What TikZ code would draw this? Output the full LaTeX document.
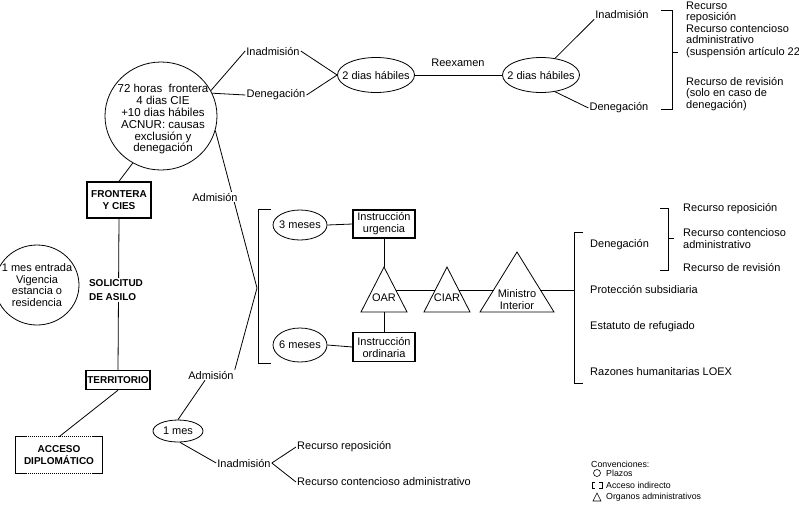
\documentclass[tikz,border=0pt]{standalone}
\usepackage{fontspec}
\setmainfont{Liberation Sans}
\usetikzlibrary{shapes.geometric}
\pgfdeclarelayer{bg}
\pgfsetlayers{bg,main}
\newcommand\fsz[2]{\fontsize{#1}{#2}\selectfont}
\begin{document}
\begin{tikzpicture}[x=1pt,y=-1pt,
  txt/.style={font=\fsz{11}{11.8}, inner sep=1pt, align=left},
  wtxt/.style={txt, fill=white},
  plazo/.style={ellipse, draw, line width=0.8pt, inner sep=0pt},
  caja/.style={draw, line width=1.4pt, inner sep=1pt, align=center, font=\bfseries\fsz{10}{12.5}},
  instr/.style={draw, line width=1.1pt, inner sep=1pt, align=center, font=\fsz{11}{12}},
  con/.style={line width=0.8pt},
  brk/.style={line width=1pt},
  organo/.style={line width=0.8pt, line join=miter},
  leg/.style={anchor=west, inner sep=0pt, font=\fsz{8.8}{9}}]
\useasboundingbox (0,0) rectangle (799,515);

% ---- upper branch
\node[plazo, minimum width=112pt, minimum height=108pt] (c72) at (161,116) {};
\node[font=\fsz{11.5}{11.8}, align=center, inner sep=0pt] (c72t) at (163,119.5)
  {72 horas\ \ frontera\\4 dias CIE\\+10 dias hábiles\\ACNUR: causas\\exclusión y\\denegación};
\node[txt] (inadT) at (273,51) {Inadmisión};
\node[txt] (denT) at (276,95) {Denegación};
\node[plazo, minimum width=77pt, minimum height=35pt, label={[txt]center:2 dias hábiles}] (e2a) at (376,75) {};
\node[txt] (reex) at (458,63) {Reexamen};
\node[plazo, minimum width=77pt, minimum height=35pt, label={[txt]center:2 dias hábiles}] (e2b) at (541,75) {};
\node[txt] (inadTR) at (622,14) {Inadmisión};
\node[txt] (denTR) at (619,108) {Denegación};
\node[txt, anchor=west, inner sep=0pt, font=\fsz{11}{11}] (rtA) at (686,12) {Recurso\\reposición};
\node[txt, anchor=west, inner sep=0pt] (rtB) at (686,41) {Recurso contencioso\\administrativo\\(suspensión artículo 22};
\node[txt, anchor=west, inner sep=0pt] (rtC) at (686,94) {Recurso de revisión\\(solo en caso de\\denegación)};
\draw[brk] (661,10) -- (672,10) -- (672,109) -- (661,109);
\draw[brk] (672,52) -- (678,52);

% ---- left column
\node[caja, minimum width=64pt, minimum height=36pt] (fc) at (119,200) {FRONTERA\\Y CIES};
\node[caja, draw=none, fill=white, align=left, font=\bfseries\fsz{10}{14}] (sol) at (116,290) {SOLICITUD\\DE ASILO};
\node[caja, minimum width=64pt, minimum height=19pt] (terr) at (118,380) {TERRITORIO};
\node[caja, draw=none, minimum width=85pt, minimum height=35pt, font=\bfseries\fsz{10}{11.5}] (acc) at (59,455) {ACCESO\\DIPLOMÁTICO};
\draw[line width=1.2pt] ([xshift=10pt]acc.north west) -- (acc.north west) -- (acc.south west) -- ([xshift=10pt]acc.south west);
\draw[line width=1.2pt] ([xshift=-10pt]acc.north east) -- (acc.north east) -- (acc.south east) -- ([xshift=-10pt]acc.south east);
\draw[line width=1pt, densely dotted] ([xshift=10pt]acc.north west) -- ([xshift=-10pt]acc.north east);
\draw[line width=1pt, densely dotted] ([xshift=10pt]acc.south west) -- ([xshift=-10pt]acc.south east);
\node[plazo, minimum width=84pt, minimum height=80pt,
  label={[txt, align=center]center:{1 mes entrada\\Vigencia\\estancia o\\residencia}}] (c1m) at (37,285) {};

% ---- admission
\node[wtxt] (admU) at (215,197) {Admisión};
\node[wtxt] (admL) at (211,375) {Admisión};
\coordinate (chev) at (257,288);
\draw[brk] (271,209) -- (258,209) -- (258,363) -- (271,363);
\node[plazo, minimum width=50pt, minimum height=22pt, label={[txt]center:1 mes}] (mes1) at (178,431) {};
\node[txt] (inadL) at (244,463) {Inadmisión};
\node[txt, anchor=west] (rrL) at (296,447) {Recurso reposición};
\node[txt, anchor=west] (rcL) at (296,482) {Recurso contencioso administrativo};

\node[plazo, minimum width=54pt, minimum height=30pt, label={[txt]center:3 meses}] (m3) at (300,225) {};
\node[plazo, minimum width=54pt, minimum height=34pt, label={[txt]center:6 meses}] (m6) at (300,345) {};
\node[instr, minimum width=62pt, minimum height=28pt] (iu) at (384,224) {Instrucción\\urgencia};
\node[instr, minimum width=62pt, minimum height=29pt] (io) at (384,347) {Instrucción\\ordinaria};

% ---- organs (triangles)
\draw[organo] (384,267) coordinate (oarA) -- (407,312) -- (361,312) -- cycle;
\coordinate (oarB) at (384,312);
\node[txt] (oar) at (384,298) {OAR};
\draw[organo] (447,267) -- (470,312) -- (424,312) -- cycle;
\node[txt] (ciar) at (447,298) {CIAR};
\draw[organo] (517,252) -- (554,312) -- (480,312) -- cycle;
\node[txt, align=center, font=\fsz{11}{12.5}] (mint) at (517,299.5) {Ministro\\Interior};
\coordinate (oarE) at (395.8,290);
\coordinate (ciarW) at (435.2,290);
\coordinate (ciarE) at (458.8,290);
\coordinate (minW) at (493.6,290);
\coordinate (minE) at (540.4,290);
\coordinate (bkR) at (574,290);

% ---- outcomes
\draw[brk] (583,232) -- (574,232) -- (574,383) -- (583,383);
\node[txt, anchor=west, inner sep=0pt] (denM) at (590,245) {Denegación};
\node[txt, anchor=west, inner sep=0pt] (prot) at (590,289) {Protección subsidiaria};
\node[txt, anchor=west, inner sep=0pt] (estat) at (590,327) {Estatuto de refugiado};
\node[txt, anchor=west, inner sep=0pt] (razon) at (590,372) {Razones humanitarias LOEX};
\draw[brk] (660,208) -- (668,208) -- (668,270) -- (660,270);
\draw[brk] (668,238) -- (674,238);
\node[txt, anchor=west, inner sep=0pt] (rmA) at (683,209) {Recurso reposición};
\node[txt, anchor=west, inner sep=0pt] (rmB) at (683,238.5) {Recurso contencioso\\administrativo};
\node[txt, anchor=west, inner sep=0pt] (rmC) at (683,267) {Recurso de revisión};

% ---- legend
\node[leg] (conv) at (591,464) {Convenciones:};
\draw[line width=0.6pt] (597,473) circle (3.5pt);
\node[leg] (lg1) at (606,473) {Plazos};
\draw[line width=0.9pt] (595,482) -- (592,482) -- (592,488) -- (595,488);
\draw[line width=0.9pt] (599,482) -- (602,482) -- (602,488) -- (599,488);
\node[leg] (lg2) at (606,485) {Acceso indirecto};
\draw[line width=0.6pt] (593,501) -- (601,501) -- (597,493) -- cycle;
\node[leg] (lg3) at (606,497) {Organos administrativos};

% ---- connectors
\begin{pgfonlayer}{bg}
\draw[con] (c72.27) -- (inadT.west);
\draw[con] (c72.24) -- (denT.west);
\draw[con] (inadT.east) -- (e2a.west);
\draw[con] (denT.east) -- (e2a.west);
\draw[con] (e2a.east) -- (e2b.west);
\draw[con] (e2b.50) -- (inadTR.south west);
\draw[con] (e2b.-50) -- (denTR.west);
\draw[con] (c72.-121) -- (fc.north);
\draw[con] (fc.south) -- (terr.north);
\draw[con] (terr.south) -- (acc.north);
\draw[con] (c72.-15) -- (chev);
\draw[con] (chev) -- (admL.north east);
\draw[con] ([xshift=-6pt]admL.south) -- (mes1.north);
\draw[con] (mes1.-80) -- (inadL.west);
\draw[con] (inadL.east) -- (rrL.west);
\draw[con] (inadL.east) -- (rcL.west);
\draw[con] (m3.east) -- (iu.west);
\draw[con] (m6.east) -- (io.west);
\draw[con] (iu.south) -- (oarA);
\draw[con] (oarB) -- (io.north);
\draw[con] (oarE) -- (ciarW);
\draw[con] (ciarE) -- (minW);
\draw[con] (minE) -- (bkR);
\end{pgfonlayer}
\end{tikzpicture}
\end{document}
